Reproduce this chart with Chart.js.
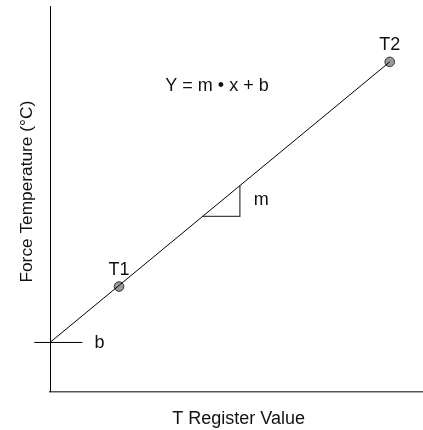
<!DOCTYPE html>
<html>
<head>
<meta charset="utf-8">
<script src="https://cdn.jsdelivr.net/npm/chart.js@4/dist/chart.umd.min.js"></script>
<style>
  html, body { margin: 0; padding: 0; background: #ffffff; overflow: hidden; }
  #wrap { width: 423px; height: 430px; overflow: hidden; }
</style>
</head>
<body>
<div id="wrap"><canvas id="c" width="433" height="430"></canvas></div>
<script>
// ---- data (arbitrary units) ----
const pointLabels = ['T1', 'T2'];
const pointX = [18.8, 92.5];
const pointY = [27.2, 85.5];
const fitLineX = [0, 92.5];
const fitLineY = [12.7, 85.5];
const slopeTriangleX = [41.5, 51.7, 51.7];
const slopeTriangleY = [45.4, 45.4, 53.4];
const interceptTickX = [-4.3, 8.8];
const interceptTickY = [12.7, 12.7];
const xTitle = 'T Register Value';
const yTitle = 'Force Temperature (°C)';
const equationText = 'Y = m • x + b';
const slopeText = 'm';
const interceptText = 'b';

const toXY = (xs, ys) => xs.map((x, i) => ({ x: x, y: ys[i] }));

const FONT = '"Liberation Sans", Arial, sans-serif';
Chart.defaults.font.family = FONT;
Chart.defaults.color = '#111';

const annotate = {
  id: 'annotate',
  afterDatasetsDraw(chart) {
    const ctx = chart.ctx;
    const sx = chart.scales.x, sy = chart.scales.y;
    const ca = chart.chartArea;
    ctx.save();
    ctx.fillStyle = '#111';
    ctx.font = '18px ' + FONT;
    ctx.textBaseline = 'alphabetic';
    ctx.textAlign = 'center';
    pointLabels.forEach((t, i) => {
      ctx.fillText(t, sx.getPixelForValue(pointX[i]), sy.getPixelForValue(pointY[i]) - 12);
    });
    ctx.textAlign = 'left';
    ctx.fillText(equationText, sx.getPixelForValue(31.4), sy.getPixelForValue(78.0));
    ctx.fillText(slopeText, sx.getPixelForValue(55.5), sy.getPixelForValue(48.3));
    ctx.fillText(interceptText, sx.getPixelForValue(12.1), sy.getPixelForValue(11.2));

    // y axis title (slightly above the axis centre, as in the reference)
    ctx.translate(ca.left - 18, (ca.top + ca.bottom) / 2 - 7);
    ctx.rotate(-Math.PI / 2);
    ctx.textAlign = 'center';
    ctx.font = '17.3px ' + FONT;
    ctx.fillText(yTitle, 0, 0);
    ctx.restore();
  }
};

new Chart(document.getElementById('c'), {
  type: 'scatter',
  data: {
    datasets: [
      {
        label: 'fit',
        data: toXY(fitLineX, fitLineY),
        showLine: true,
        borderColor: '#000',
        borderWidth: 1,
        pointRadius: 0,
        fill: false
      },
      {
        label: 'slope',
        data: toXY(slopeTriangleX, slopeTriangleY),
        showLine: true,
        borderColor: '#444',
        borderWidth: 1.3,
        pointRadius: 0,
        fill: false
      },
      {
        label: 'intercept',
        data: toXY(interceptTickX, interceptTickY),
        showLine: true,
        borderColor: '#000',
        borderWidth: 1,
        pointRadius: 0,
        fill: false,
        clip: false
      },
      {
        label: 'points',
        data: toXY(pointX, pointY),
        showLine: false,
        pointRadius: 4.8,
        pointBackgroundColor: '#9a9a9a',
        pointBorderColor: '#333',
        pointBorderWidth: 1
      }
    ]
  },
  options: {
    responsive: false,
    animation: false,
    layout: { padding: { left: 50, top: 6, right: 0, bottom: 0 } },
    plugins: { legend: { display: false }, tooltip: { enabled: false } },
    scales: {
      x: {
        type: 'linear', min: 0, max: 102.7,
        ticks: { display: false },
        grid: { display: false, drawTicks: false },
        border: { display: true, color: '#555', width: 1.5 },
        title: {
          display: true, text: xTitle, color: '#111',
          font: { size: 18, family: FONT },
          padding: { top: 17, bottom: 0 }
        }
      },
      y: {
        type: 'linear', min: 0, max: 100,
        ticks: { display: false },
        grid: { display: false, drawTicks: false },
        border: { display: true, color: '#000', width: 1 },
        title: { display: false }
      }
    }
  },
  plugins: [annotate]
});
</script>
</body>
</html>
